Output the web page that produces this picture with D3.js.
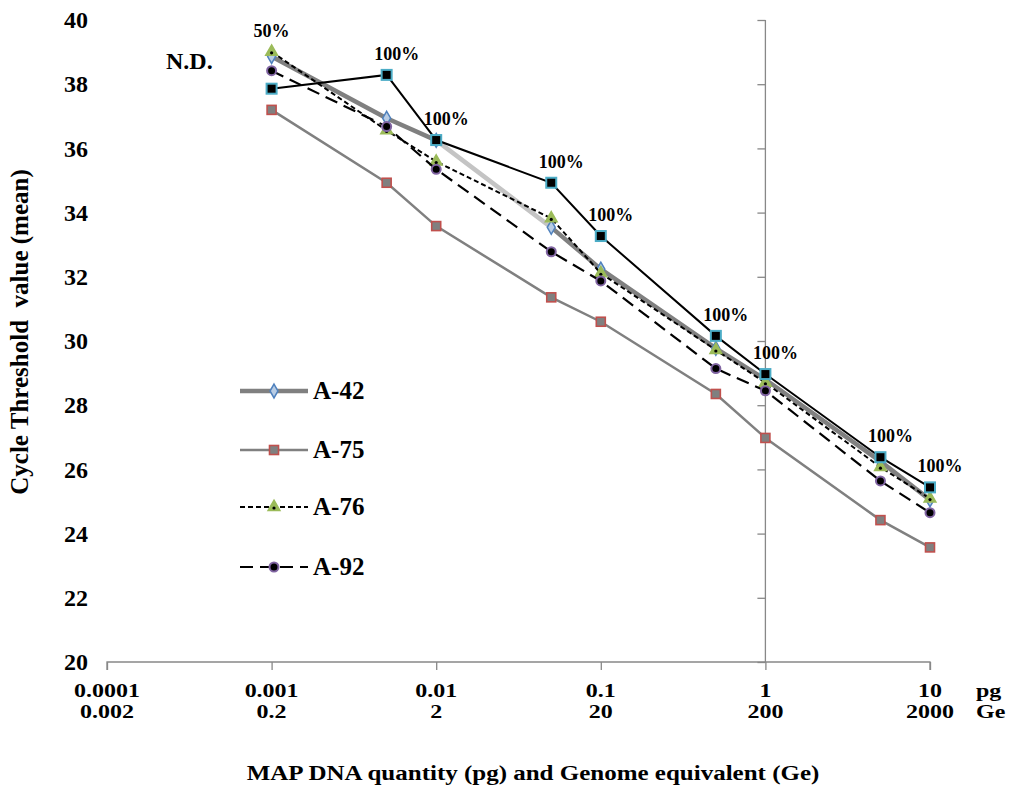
<!DOCTYPE html>
<meta charset="utf-8">
<head>
  <title>Cycle threshold vs MAP DNA quantity</title>
  <script src="https://cdn.jsdelivr.net/npm/d3@7"></script>
  <style>
    body { margin: 0; background: #fff; }
    text { font-family: "Liberation Serif", "Times New Roman", serif; font-weight: bold; fill: #000; }
  </style>
</head>
<body>
<div id="chart"></div>
<script>
  // data
  var dnaPg = [0.001, 0.005, 0.01, 0.05, 0.1, 0.5, 1, 5, 10];
  var ctA42 = [38.86, 36.94, 36.25, 33.54, 32.24, 29.77, 28.80, 26.25, 25.05];
  var ctA75 = [37.20, 34.93, 33.58, 31.36, 30.60, 28.35, 26.98, 24.42, 23.57];
  var ctA76 = [39.01, 36.56, 35.59, 33.82, 32.11, 29.72, 28.70, 26.07, 25.09];
  var ctA92 = [38.42, 36.68, 35.35, 32.78, 31.87, 29.14, 28.45, 25.64, 24.65];
  var ctTop = [37.86, 38.29, 36.26, 34.93, 33.27, 30.16, 28.97, 26.38, 25.44];
  var detection = ["50%", "100%", "100%", "100%", "100%", "100%", "100%", "100%", "100%"];

  var xTicks = [0.0001, 0.001, 0.01, 0.1, 1, 10];
  var pgLabels = ["0.0001", "0.001", "0.01", "0.1", "1", "10"];
  var geLabels = ["0.002", "0.2", "2", "20", "200", "2000"];
  var yTicks = [20, 22, 24, 26, 28, 30, 32, 34, 36, 38, 40];

  const width = 1020, height = 786;
  var svg = d3.select("#chart").append("svg")
      .attr("width", width).attr("height", height);

  var x = d3.scaleLog().domain([0.0001, 10]).range([107, 930]);
  var y = d3.scaleLinear().domain([20, 40]).range([662, 20]);

  // axes
  var xAxis = svg.append("g").attr("transform", "translate(0," + y(20) + ")")
      .call(d3.axisBottom(x).tickValues(xTicks).tickSize(8).tickFormat(""));
  var yAxis = svg.append("g").attr("transform", "translate(" + x(1) + ",0)")
      .call(d3.axisLeft(y).tickValues(yTicks).tickSize(8).tickFormat(""));
  svg.selectAll(".domain").attr("stroke", "#888").attr("stroke-width", 1.3);
  svg.selectAll(".tick line").attr("stroke", "#888").attr("stroke-width", 1.3);
  xAxis.select(".domain").attr("d", "M" + x(0.0001) + ",8V0H" + x(10) + "V8");
  yAxis.select(".domain").attr("d", "M0," + y(20) + "V" + y(40));

  svg.append("g").selectAll("text").data(yTicks).enter().append("text")
      .attr("x", 88).attr("y", d => y(d)).attr("dy", "0.34em")
      .attr("text-anchor", "end").style("font-size", "24px")
      .text(d => d);

  var xl = svg.append("g").selectAll("g").data(xTicks).enter().append("g")
      .attr("transform", d => "translate(" + x(d) + ",0)");
  xl.append("text").attr("transform", "translate(0,697) scale(1,0.76)")
      .attr("text-anchor", "middle").style("font-size", "24px")
      .text((d, i) => pgLabels[i]);
  xl.append("text").attr("transform", "translate(0,718) scale(1,0.76)")
      .attr("text-anchor", "middle").style("font-size", "24px")
      .text((d, i) => geLabels[i]);
  svg.append("text").attr("transform", "translate(976,697) scale(1,0.76)")
      .style("font-size", "24px").text("pg");
  svg.append("text").attr("transform", "translate(976,718) scale(1,0.76)")
      .style("font-size", "24px").text("Ge");

  svg.append("text").attr("transform", "translate(533,780) scale(1,0.8)")
      .attr("text-anchor", "middle").style("font-size", "25px")
      .text("MAP DNA quantity (pg) and Genome equivalent (Ge)");
  svg.append("text").attr("transform", "translate(28,332) rotate(-90)")
      .attr("text-anchor", "middle").style("font-size", "25px")
      .attr("xml:space", "preserve").style("white-space", "pre")
      .text("Cycle Threshold  value (mean)");

  svg.append("text").attr("x", 166).attr("y", 69).style("font-size", "24px").text("N.D.");

  // series
  var series = [
    {name: "A-42", values: ctA42, color: "#808080", width: 4.5, dash: null, marker: "diamond"},
    {name: "A-75", values: ctA75, color: "#808080", width: 2.5, dash: null, marker: "square"},
    {name: "A-76", values: ctA76, color: "#000", width: 2, dash: "5,3", marker: "triangle"},
    {name: "A-92", values: ctA92, color: "#000", width: 2.2, dash: "13,7", marker: "circle"},
    {name: "", values: ctTop, color: "#000", width: 2, dash: null, marker: "box"}
  ];

  var line = d3.line().x(d => x(d[0])).y(d => y(d[1]));

  function drawMarker(g, kind, cx, cy) {
    if (kind == "diamond") {
      g.append("path").attr("d", d3.symbol(d3.symbolDiamond, 55)())
        .attr("transform", "translate(" + cx + "," + cy + ")")
        .attr("fill", "#b8cce4").attr("stroke", "#4f81bd").attr("stroke-width", 1.5);
    } else if (kind == "square") {
      g.append("rect").attr("x", cx - 4.5).attr("y", cy - 4.5).attr("width", 9).attr("height", 9)
        .attr("fill", "#808080").attr("stroke", "#c0504d").attr("stroke-width", 1.6);
    } else if (kind == "triangle") {
      g.append("path").attr("d", d3.symbol(d3.symbolTriangle, 60)())
        .attr("transform", "translate(" + cx + "," + cy + ")")
        .attr("fill", "#9bbb59").attr("stroke", "#9bbb59").attr("stroke-width", 1.5);
      g.append("circle").attr("cx", cx).attr("cy", cy + 1).attr("r", 1.6).attr("fill", "#000");
    } else if (kind == "circle") {
      g.append("circle").attr("cx", cx).attr("cy", cy).attr("r", 4.5)
        .attr("fill", "#000").attr("stroke", "#8064a2").attr("stroke-width", 2);
    } else {
      g.append("rect").attr("x", cx - 5).attr("y", cy - 5).attr("width", 10).attr("height", 10)
        .attr("fill", "#000").attr("stroke", "#4bacc6").attr("stroke-width", 2);
    }
  }

  series.forEach(function(s) {
    var pts = dnaPg.map((d, i) => [d, s.values[i]]);
    var g = svg.append("g");
    if (s.name == "A-42") {
      // the 0.01 -> 0.05 segment is drawn lighter in the original
      pts.slice(1).forEach(function(p, i) {
        g.append("path").attr("d", line([pts[i], p])).attr("fill", "none")
          .attr("stroke", i == 2 ? "#c4c4c4" : s.color).attr("stroke-width", s.width)
          .attr("stroke-linecap", "round");
      });
    } else {
      g.append("path").attr("d", line(pts)).attr("fill", "none")
        .attr("stroke", s.color).attr("stroke-width", s.width)
        .attr("stroke-dasharray", s.dash);
    }
    pts.forEach(p => drawMarker(g, s.marker, x(p[0]), y(p[1])));
  });

  // detection rate labels above the highest point at each quantity
  svg.append("g").selectAll("text").data(detection).enter().append("text")
      .attr("x", (d, i) => x(dnaPg[i]) + (i == 0 ? 0 : 10))
      .attr("y", (d, i) => y(d3.max(series, s => s.values[i])) - 15)
      .attr("text-anchor", "middle").style("font-size", "18px")
      .text(d => d);

  // legend
  var legend = svg.append("g").selectAll("g").data(series.slice(0, 4)).enter().append("g")
      .attr("transform", (d, i) => "translate(240," + [391, 450, 507, 567][i] + ")");
  legend.append("line").attr("x1", 0).attr("x2", 68)
      .attr("stroke", d => d.color).attr("stroke-width", d => d.width)
      .attr("stroke-dasharray", d => d.dash);
  legend.each(function(d) { drawMarker(d3.select(this), d.marker, 34, 0); });
  legend.append("text").attr("x", 73).attr("dy", "0.33em").style("font-size", "25px")
      .text(d => d.name);
</script>
</body>
